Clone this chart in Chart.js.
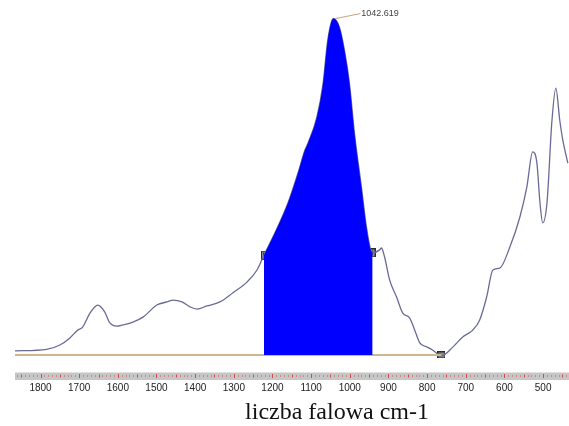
<!DOCTYPE html>
<html>
<head>
<meta charset="utf-8">
<script src="https://cdn.jsdelivr.net/npm/chart.js@4.4.1/dist/chart.umd.min.js"></script>
<style>
  html, body { margin: 0; padding: 0; background: #fff; overflow: hidden; }
  #wrap { width: 569px; height: 426px; }
</style>
</head>
<body>
<div id="wrap"><canvas id="spectrum"></canvas></div>
<script>
// spectrum (wavenumber cm-1 -> absorbance, arbitrary units)
const wavenumbers = [1866, 1784, 1750, 1724, 1704, 1691, 1672, 1652, 1634, 1622, 1603, 1587, 1561, 1535,
  1499, 1473, 1457, 1434, 1413, 1395, 1370, 1336, 1303, 1266, 1240, 1222, 1194, 1160, 1134, 1116, 1108,
  1085, 1069, 1057, 1042.619, 1027, 1014, 1001, 988, 970, 957, 946, 941, 923, 918, 910, 897, 879, 863,
  845, 832, 819, 801, 786, 763, 733, 708, 682, 664, 646, 630, 612, 586, 560, 542, 527, 516, 508, 501,
  490, 477, 467, 457, 449, 436]
const absorbance = [0.068, 0.073, 0.087, 0.110, 0.135, 0.145, 0.190, 0.216, 0.194, 0.161, 0.148, 0.152,
  0.161, 0.177, 0.216, 0.226, 0.232, 0.226, 0.210, 0.203, 0.213, 0.226, 0.255, 0.290, 0.329, 0.377,
  0.448, 0.545, 0.642, 0.716, 0.739, 0.823, 0.932, 1.071, 1.140, 1.113, 1.039, 0.932, 0.771, 0.597,
  0.468, 0.394, 0.384, 0.394, 0.400, 0.371, 0.297, 0.242, 0.190, 0.174, 0.135, 0.094, 0.081, 0.071,
  0.052, 0.081, 0.113, 0.135, 0.168, 0.242, 0.329, 0.335, 0.403, 0.500, 0.597, 0.710, 0.674, 0.545,
  0.481, 0.545, 0.813, 0.916, 0.813, 0.748, 0.674]

// integration band and baseline
const bandFrom = 1222
const bandTo = 941
const baselineLevel = 0.055
const baselineEnds = [1866, 763]
const peakWavenumber = 1042.619
const peakLabel = "1042.619"

// axis ticks
const tickLabels = [1800, 1700, 1600, 1500, 1400, 1300, 1200, 1100, 1000, 900, 800, 700, 600, 500]
const axisTitle = "liczba falowa cm-1"

const curve = wavenumbers.map((w, i) => ({ x: w, y: absorbance[i] }))
const band = curve.filter((p) => p.x <= bandFrom && p.x >= bandTo)
const markers = [
  { x: bandFrom, y: absorbance[wavenumbers.indexOf(bandFrom)] },
  { x: bandTo, y: absorbance[wavenumbers.indexOf(bandTo)] },
  { x: baselineEnds[1], y: baselineLevel },
]

// small gray handle used for the band / baseline markers
function makeHandle(w, h) {
  const c = document.createElement("canvas")
  c.width = w
  c.height = h
  const g = c.getContext("2d")
  g.fillStyle = "#8a8a8a"
  g.fillRect(0, 0, w, h)
  g.strokeStyle = "#2a2a2a"
  g.lineWidth = 1
  g.strokeRect(0.5, 0.5, w - 1, h - 1)
  g.fillStyle = "#333"
  g.fillRect(2, 2, 1, h - 4)
  return c
}
const sideHandle = makeHandle(6, 9)
const baseHandle = makeHandle(8, 7)

// gray ruler band with red ticks under the plot, title and peak label
const decorations = {
  id: "decorations",
  afterDraw(chart) {
    const { ctx, chartArea, scales } = chart
    const x = scales.x
    const y = scales.y
    const top = chartArea.bottom
    ctx.save()
    ctx.fillStyle = "#c6c6c6"
    ctx.fillRect(chartArea.left, top, chartArea.right - chartArea.left, 8)
    ctx.fillStyle = "#e2e2e2"
    ctx.fillRect(chartArea.left, top, chartArea.right - chartArea.left, 1)
    ctx.strokeStyle = "#d84a4a"
    ctx.lineWidth = 1
    for (let w = 1860; w >= 440; w -= 10) {
      const px = Math.round(x.getPixelForValue(w)) + 0.5
      const len = w % 100 === 0 ? 4 : w % 50 === 0 ? 3 : 1
      ctx.beginPath()
      ctx.moveTo(px, top + 4 - len / 2)
      ctx.lineTo(px, top + 4 + len / 2)
      ctx.stroke()
    }

    // peak label with leader
    const px = x.getPixelForValue(peakWavenumber)
    const py = y.getPixelForValue(absorbance[wavenumbers.indexOf(peakWavenumber)])
    ctx.strokeStyle = "#c8a080"
    ctx.beginPath()
    ctx.moveTo(px + 2, py)
    ctx.lineTo(px + 27, py - 5)
    ctx.stroke()
    ctx.fillStyle = "#444"
    ctx.font = "9px Arial, 'Liberation Sans', sans-serif"
    ctx.textBaseline = "middle"
    ctx.fillText(peakLabel, px + 28, py - 5)

    // axis title
    ctx.fillStyle = "#111"
    ctx.font = "24px 'Times New Roman', 'Liberation Serif', serif"
    ctx.textAlign = "center"
    ctx.textBaseline = "alphabetic"
    ctx.fillText(axisTitle, 337, 419)
    ctx.restore()
  },
}

new Chart(document.getElementById("spectrum"), {
  type: "line",
  data: {
    datasets: [
      {
        label: "band",
        data: band,
        borderWidth: 0,
        borderColor: "#0000ff",
        backgroundColor: "#0000ff",
        fill: { value: baselineLevel },
        cubicInterpolationMode: "monotone",
        pointRadius: 0,
      },
      {
        label: "baseline",
        data: baselineEnds.map((w) => ({ x: w, y: baselineLevel })),
        borderColor: "#cdb58f",
        borderWidth: 2,
        pointRadius: 0,
        fill: false,
      },
      {
        label: "spectrum",
        data: curve,
        borderColor: "#6a6a98",
        borderWidth: 1.3,
        cubicInterpolationMode: "monotone",
        pointRadius: 0,
        fill: false,
      },
      {
        label: "markers",
        data: markers,
        showLine: false,
        pointStyle: [sideHandle, sideHandle, baseHandle],
        pointRadius: 4,
      },
    ],
  },
  options: {
    responsive: true,
    maintainAspectRatio: false,
    animation: false,
    layout: { autoPadding: false, padding: { left: 15, right: 0, top: 0, bottom: 22 } },
    plugins: {
      legend: { display: false },
      tooltip: { enabled: false },
    },
    scales: {
      x: {
        type: "linear",
        reverse: true,
        min: 433,
        max: 1866,
        grid: { display: false, drawTicks: false },
        border: { display: false },
        afterBuildTicks: (scale) => {
          scale.ticks = tickLabels.map((v) => ({ value: v }))
        },
        afterFit: (scale) => {
          scale.paddingLeft = 0
          scale.paddingRight = 0
        },
        ticks: {
          autoSkip: false,
          maxRotation: 0,
          padding: 10,
          color: "#222",
          font: { family: "'Liberation Sans Narrow', Arial, sans-serif", size: 10 },
          callback: (value) => String(value),
        },
      },
      y: {
        display: false,
        min: 0,
        max: 1.2,
      },
    },
  },
  plugins: [decorations],
})
</script>
</body>
</html>
